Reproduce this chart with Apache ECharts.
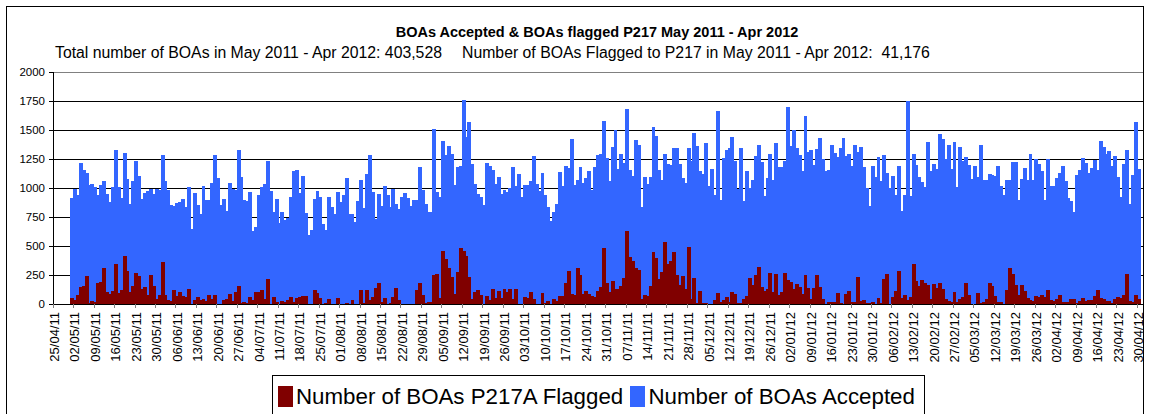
<!DOCTYPE html>
<html>
<head>
<meta charset="utf-8">
<script src="https://cdn.jsdelivr.net/npm/echarts/dist/echarts.min.js"></script>
<style>
html,body{margin:0;padding:0;background:#fff;}
#chart{width:1151px;height:414px;}
#chart svg path{shape-rendering:crispEdges;}
</style>
</head>
<body>
<div id="chart"></div>
<script>
// ---- data ----
const axisStart = '2011-04-25';   // first day on the date axis
const axisDays = 373;             // 25/04/11 .. 01/05/12
const emptyLeadDays = 6;          // 25/04/11 .. 30/04/11 have no data

const titleText = 'BOAs Accepted & BOAs flagged P217 May 2011 - Apr 2012';
const subtitleParts = ['Total number of BOAs in May 2011 - Apr 2012: 403,528', 'Number of BOAs Flagged to P217 in May 2011 - Apr 2012:  41,176'];
const seriesNames = ['Number of BOAs P217A Flagged', 'Number of BOAs Accepted'];
const yTicks = [0, 250, 500, 750, 1000, 1250, 1500, 1750, 2000];

// daily values 01/05/11 .. 30/04/12
const accepted = [
  915, 993, 941, 1217, 1157, 1131, 1027, 1036, 1010, 941, 1027, 1062, 950, 883, 1010, 1330, 1010, 915, 1304, 1079, 863, 1062, 1235, 1105, 907, 958, 976, 993, 950, 993, 984, 1287, 1062, 984,
  855, 846, 872, 881, 907, 838, 1010, 648, 958, 855, 777, 1019, 898, 898, 1045, 1287, 1088, 855, 907, 803, 1045, 993, 984, 1330, 1097, 898, 889, 967, 630, 665, 941, 1010, 1036, 1235, 976, 794,
  907, 699, 794, 725, 743, 924, 1148, 1157, 958, 1105, 786, 596, 639, 907, 976, 924, 691, 639, 924, 838, 777, 967, 881, 941, 1088, 777, 777, 708, 889, 1071, 829, 1122, 1287, 967, 737, 950,
  846, 1019, 941, 838, 993, 863, 820, 924, 958, 915, 846, 898, 898, 1183, 984, 863, 794, 794, 1511, 967, 924, 1407, 1287, 1364, 1295, 1027, 1183, 1191, 1761, 1442, 1571, 1209, 1036, 950, 924, 855,
  1217, 1191, 1157, 1036, 1097, 950, 984, 967, 1002, 1183, 1019, 1122, 924, 1027, 1027, 1062, 1278, 1036, 976, 1131, 941, 838, 717, 794, 863, 1140, 1019, 1191, 1174, 1425, 1027, 1071, 1183, 1045, 1088, 1148,
  984, 1183, 1287, 1295, 1580, 1261, 1062, 1356, 1502, 1166, 1295, 1217, 1684, 1157, 1105, 1416, 1373, 838, 1097, 1036, 1097, 1528, 1450, 1157, 1071, 1295, 1209, 1200, 1347, 1347, 1209, 1088, 1045, 1347, 1235, 1476,
  1364, 1148, 1122, 1390, 1019, 1166, 941, 1666, 898, 1261, 1330, 1347, 1442, 1235, 993, 1347, 889, 1148, 1002, 1071, 1278, 1373, 1226, 932, 1088, 1295, 1071, 1390, 1183, 1183, 1235, 1701, 1364, 1502, 1347, 1287,
  1148, 1623, 1312, 1330, 1200, 1338, 1433, 1252, 1148, 1157, 1373, 1304, 1269, 1347, 1433, 1278, 1295, 1191, 1373, 1312, 1356, 1183, 1002, 846, 1191, 1097, 1269, 1062, 1287, 1131, 1002, 1105, 941, 1191, 803, 941,
  1753, 932, 1295, 1200, 1097, 1053, 1010, 1399, 1148, 1209, 1166, 1468, 1425, 1252, 1373, 1166, 1399, 1010, 1356, 1235, 1269, 1200, 1079, 1191, 1097, 1373, 1071, 1071, 1122, 1114, 1105, 1191, 1019, 941,
  1071, 1071, 1226, 1226, 898, 1079, 1174, 1071, 1295, 1071, 1252, 1209, 1148, 898, 1252, 1019, 1019, 1088, 1131, 1191, 1062, 915, 889, 794, 1114, 1157, 1261, 1217, 1131, 1174, 1243, 1157, 1407, 1356, 1295, 1321, 1191, 1278, 1097, 924, 1209, 1330, 863, 1114, 1571, 1166
];
const flagged = [
  52, 35, 78, 150, 155, 242, 9, 26, 17, 181, 190, 311, 104, 86, 112, 345, 95, 121, 414, 285, 104, 155, 268, 242, 130, 147, 78, 250, 155, 43, 78, 363, 78, 35,
  26, 121, 69, 104, 69, 60, 130, 0, 35, 60, 35, 43, 26, 78, 43, 78, 0, 0, 35, 43, 86, 26, 104, 155, 9, 17, 9, 60, 35, 104, 104, 121, 43, 216, 0, 60,
  17, 0, 26, 17, 35, 60, 17, 52, 60, 69, 69, 0, 0, 121, 95, 52, 0, 9, 43, 0, 0, 52, 0, 0, 9, 0, 35, 0, 0, 121, 9, 121, 35, 60, 138, 181,
  17, 52, 0, 9, 60, 138, 35, 0, 0, 0, 0, 0, 121, 181, 78, 9, 17, 17, 250, 259, 52, 458, 389, 311, 233, 86, 276, 483, 458, 414, 233, 43, 104, 121, 78, 0,
  69, 35, 130, 52, 112, 52, 130, 104, 130, 43, 130, 0, 0, 60, 52, 104, 43, 0, 0, 95, 9, 26, 0, 43, 26, 69, 69, 181, 285, 86, 78, 311, 250, 86, 112, 86,
  69, 60, 112, 147, 483, 181, 104, 199, 130, 130, 155, 224, 630, 406, 371, 311, 294, 43, 78, 69, 155, 449, 397, 216, 276, 535, 345, 371, 449, 250, 164, 242, 130, 492, 43, 224,
  9, 112, 9, 9, 0, 0, 35, 95, 17, 35, 60, 17, 104, 86, 9, 9, 43, 69, 224, 164, 250, 319, 147, 112, 130, 268, 104, 259, 78, 104, 268, 207, 190, 130, 173, 147,
  86, 250, 138, 43, 138, 250, 147, 43, 0, 17, 17, 17, 95, 9, 0, 86, 112, 17, 17, 233, 26, 35, 9, 9, 17, 0, 52, 9, 216, 259, 0, 60, 112, 285, 52, 78,
  35, 60, 345, 199, 155, 207, 181, 164, 43, 173, 138, 181, 130, 43, 26, 17, 104, 17, 43, 60, 181, 78, 0, 0, 95, 9, 17, 43, 181, 155, 69, 17, 17, 0,
  121, 311, 259, 164, 78, 164, 112, 52, 35, 26, 69, 60, 78, 60, 121, 35, 26, 43, 78, 17, 17, 17, 43, 43, 9, 26, 52, 26, 35, 35, 69, 121, 52, 43, 26, 26, 9, 43, 60, 52, 78, 259, 26, 17, 78, 43
];

// ---- build axis categories (dd/mm/yy) ----
function buildDates(startIso, n) {
  const out = [];
  const d0 = new Date(startIso + 'T00:00:00Z');
  for (let i = 0; i < n; i++) {
    const d = new Date(d0.getTime() + i * 86400000);
    const dd = String(d.getUTCDate()).padStart(2, '0');
    const mm = String(d.getUTCMonth() + 1).padStart(2, '0');
    const yy = String(d.getUTCFullYear()).slice(2);
    out.push(dd + '/' + mm + '/' + yy);
  }
  return out;
}
const categories = buildDates(axisStart, axisDays);
function pairs(values) {
  return values.map((v, i) => [categories[i + emptyLeadDays], v]);
}

const FONT = '"Liberation Sans", Arial, sans-serif';
const BLUE = '#3366FF', RED = '#800000';

// full-width day columns drawn through the axis scales
function dayColumn(color) {
  return function (params, api) {
    const v = api.value(1);
    if (v == null || isNaN(v)) return null;
    const top = api.coord([api.value(0), v]);
    const base = api.coord([api.value(0), 0]);
    const w = api.size([1, 0])[0];
    return {
      type: 'rect',
      shape: {x: top[0] - w / 2 - 0.5, y: top[1], width: w + 1, height: base[1] - top[1]},
      style: {fill: color}
    };
  };
}

const chart = echarts.init(document.getElementById('chart'), null, {renderer: 'svg'});
chart.setOption({
  animation: false,
  textStyle: {fontFamily: FONT},
  graphic: [
    {type: 'polyline', silent: true, z: 100,
     shape: {points: [[6.5, 414], [6.5, 6.5], [1143.5, 6.5], [1143.5, 414]]},
     style: {stroke: '#000', lineWidth: 1, fill: null}},
    {type: 'text', x: 597, y: 32, style: {text: titleText, font: 'bold 14.5px ' + FONT, fill: '#000', textAlign: 'center', textVerticalAlign: 'middle'}},
    {type: 'text', x: 55, y: 52, style: {text: subtitleParts[0], font: '15.8px ' + FONT, fill: '#000', textAlign: 'left', textVerticalAlign: 'middle'}},
    {type: 'text', x: 462, y: 52, style: {text: subtitleParts[1], font: '15.8px ' + FONT, fill: '#000', textAlign: 'left', textVerticalAlign: 'middle'}}
  ],
  legend: {
    data: seriesNames,
    left: 272, top: 375,
    icon: 'rect', itemWidth: 15, itemHeight: 21, itemGap: 6,
    padding: [10, 8, 8, 6],
    borderColor: '#000', borderWidth: 1,
    textStyle: {fontSize: 22.3, color: '#000', fontFamily: FONT, padding: [0, 0, 0, -2]}
  },
  grid: {left: 53, right: 8, top: 72, bottom: 110, show: true, borderColor: '#808080', borderWidth: 1, backgroundColor: 'transparent'},
  xAxis: {
    type: 'category', data: categories, boundaryGap: true,
    axisLine: {lineStyle: {color: '#000', width: 1}},
    axisTick: {show: true, interval: 6, length: 4, lineStyle: {color: '#808080'}},
    axisLabel: {interval: 6, rotate: 90, fontSize: 13, color: '#000', margin: 8, fontFamily: FONT},
    splitLine: {show: false}
  },
  yAxis: {
    type: 'value', min: yTicks[0], max: yTicks[yTicks.length - 1], interval: yTicks[1] - yTicks[0],
    axisLine: {show: true, lineStyle: {color: '#000', width: 1}},
    axisTick: {show: true, length: 4, lineStyle: {color: '#000'}},
    axisLabel: {fontSize: 11.5, color: '#000', margin: 8, fontFamily: FONT, formatter: v => String(v)},
    splitLine: {show: true, showMaxLine: false, lineStyle: {color: '#000', width: 1}}
  },
  series: [
    {name: seriesNames[1], type: 'custom', data: pairs(accepted), encode: {x: 0, y: 1},
     renderItem: dayColumn(BLUE), itemStyle: {color: BLUE}, z: 2},
    {name: seriesNames[0], type: 'custom', data: pairs(flagged), encode: {x: 0, y: 1},
     renderItem: dayColumn(RED), itemStyle: {color: RED}, z: 3}
  ]
});
</script>
</body>
</html>
